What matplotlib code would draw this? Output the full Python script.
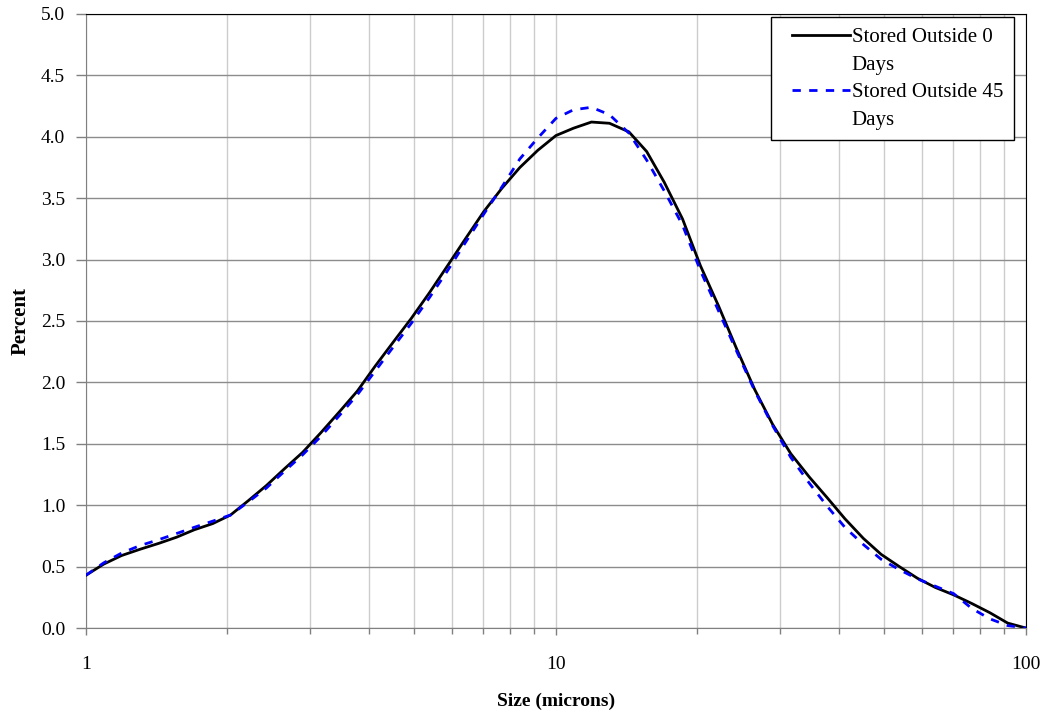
import matplotlib
matplotlib.use("Agg")
import matplotlib.pyplot as plt
from matplotlib.lines import Line2D
from matplotlib.legend_handler import HandlerLine2D
from matplotlib.ticker import FixedLocator, LogLocator, NullFormatter

plt.rcParams['font.family'] = ['Liberation Serif', 'DejaVu Serif']

# particle size bins (microns)
size = [1.0, 1.09, 1.19, 1.30, 1.43, 1.56, 1.70, 1.86, 2.03, 2.22, 2.42, 2.65, 2.89,
        3.16, 3.46, 3.78, 4.12, 4.51, 4.92, 5.38, 5.88, 6.42, 7.02, 7.67, 8.38, 9.15,
        10.0, 10.9, 11.9, 13.0, 14.3, 15.6, 17.0, 18.6, 20.3, 22.2, 24.2, 26.5, 28.9,
        31.6, 34.6, 37.8, 41.2, 45.1, 49.2, 53.8, 58.8, 64.2, 70.2, 76.7, 83.8, 91.5, 100.0]

days_0 = [0.43, 0.52, 0.59, 0.64, 0.69, 0.74, 0.80, 0.85, 0.92, 1.04, 1.16, 1.30, 1.43,
          1.59, 1.76, 1.93, 2.13, 2.33, 2.52, 2.73, 2.95, 3.17, 3.39, 3.58, 3.75, 3.89,
          4.01, 4.07, 4.12, 4.11, 4.04, 3.88, 3.63, 3.33, 2.95, 2.62, 2.28, 1.94, 1.66,
          1.42, 1.23, 1.06, 0.89, 0.73, 0.60, 0.50, 0.405, 0.33, 0.27, 0.20, 0.125, 0.04, 0.0]

days_45 = [0.43, 0.53, 0.61, 0.67, 0.72, 0.77, 0.82, 0.87, 0.92, 1.03, 1.14, 1.28, 1.41,
           1.56, 1.73, 1.90, 2.09, 2.29, 2.48, 2.69, 2.91, 3.14, 3.37, 3.59, 3.82, 3.99,
           4.15, 4.22, 4.24, 4.18, 4.03, 3.81, 3.56, 3.28, 2.91, 2.58, 2.26, 1.93, 1.65,
           1.39, 1.18, 0.99, 0.82, 0.68, 0.56, 0.475, 0.40, 0.34, 0.28, 0.16, 0.075, 0.02, 0.0]


class ShiftedLine(HandlerLine2D):
    # legend line starts a bit right of the box edge, like the original
    def get_xdata(self, legend, xdescent, ydescent, width, height, fontsize):
        xdata, xmark = super().get_xdata(legend, xdescent, ydescent, width, height, fontsize)
        xdata = [xdata[0] + 7.6, xdata[-1]]
        return xdata, xmark


fig = plt.figure(figsize=(10.44, 7.13), dpi=100)
ax = fig.add_axes([0.0824, 0.1192, 0.9002, 0.8612])

ax.plot(size, days_0, color="black", lw=2.0, zorder=3)
ax.plot(size, days_45, color="#0000ff", lw=2.0, linestyle=(0, (3, 3)), zorder=4)

ax.set_xscale("log")
ax.set_xlim(1, 100)
ax.set_ylim(0, 5)
ax.xaxis.set_major_locator(FixedLocator([1, 10, 100]))
ax.set_xticklabels(["1", "10", "100"])
ax.xaxis.set_minor_locator(LogLocator(base=10, subs=range(2, 10)))
ax.xaxis.set_minor_formatter(NullFormatter())
ax.set_yticks([i * 0.5 for i in range(11)])
ax.set_yticklabels(["%.1f" % (i * 0.5) for i in range(11)])

ax.grid(True, axis="y", which="major", color="#8c8c8c", lw=1.0)
ax.grid(True, axis="x", which="both", color="#cccccc", lw=1.0)
ax.set_axisbelow(True)

for s in ["left", "bottom"]:
    ax.spines[s].set_color("#808080")
for s in ["top", "right"]:
    ax.spines[s].set_color("black")

ax.tick_params(axis="y", direction="out", length=7, width=1, color="#808080",
               pad=8, labelsize=14)
ax.tick_params(axis="x", which="major", direction="out", length=5, width=1,
               color="#808080", pad=15, labelsize=14)
ax.tick_params(axis="x", which="minor", direction="out", length=4, width=1,
               color="#808080")

ax.set_xlabel("Size (microns)", fontsize=14, fontweight="bold", labelpad=14)
ax.set_ylabel("Percent", fontsize=15, fontweight="bold", labelpad=7)

blank = Line2D([], [], color="none")
handles = [Line2D([], [], color="black", lw=2.0), blank,
           Line2D([], [], color="#0000ff", lw=2.0, linestyle=(0, (3, 3))), blank]
labels = ["Stored Outside 0", "Days", "Stored Outside 45", "Days"]
leg = ax.legend(handles, labels, loc="upper right", bbox_to_anchor=(0.987, 0.995),
                fontsize=15, frameon=True, fancybox=False, shadow=False,
                edgecolor="black", framealpha=1, handlelength=3.29,
                handletextpad=0.1, labelspacing=0.38, borderpad=0.5,
                borderaxespad=0, handler_map={Line2D: ShiftedLine()})
leg.get_frame().set_linewidth(1.0)

fig.savefig("out.png", dpi=100)
